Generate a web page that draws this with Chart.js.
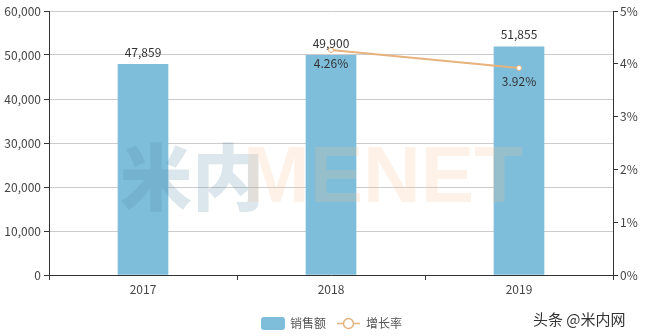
<!DOCTYPE html>
<html><head><meta charset="utf-8">
<script src="https://cdn.jsdelivr.net/npm/chart.js@4"></script>
<style>html,body{margin:0;padding:0;background:#fff;}#wrap{width:646px;height:336px;position:relative;}</style>
</head><body><div id="wrap"><canvas id="c" width="646" height="336"></canvas></div>
<script>
const categories = ['2017', '2018', '2019'];
const salesValues = [47859, 49900, 51855];
const growthValues = [null, 4.26, 3.92];
const leftTicks = [0, 10000, 20000, 30000, 40000, 50000, 60000];
const rightTicks = [0, 1, 2, 3, 4, 5];
const seriesNames = ['销售额', '增长率'];
const sourceText = '头条 @米内网';

const FONT = '"Noto Sans CJK SC", "DejaVu Sans", sans-serif';
const BAR = 'rgb(126,190,219)';
const LINE = 'rgb(231,178,124)';
const fmt = v => v.toLocaleString('en-US');

const overlay = {
  id: 'overlay',
  afterDatasetsDraw(chart) {
    const ctx = chart.ctx;
    ctx.save();
    ctx.textBaseline = 'alphabetic';
    ctx.font = '900 72px "Noto Sans CJK SC", sans-serif';
    ctx.fillStyle = 'rgba(80,130,165,0.2)';
    ctx.textAlign = 'left';
    ctx.fillText('米内', 120, 204);
    ctx.font = 'bold 80px "Liberation Sans", Arial, sans-serif';
    ctx.fillStyle = 'rgba(250,190,140,0.2)';
    ctx.fillText('MENET', 243, 202);
    ctx.restore();
  },
  afterDraw(chart) {
    const ctx = chart.ctx;
    ctx.save();
    ctx.font = '12px ' + FONT;
    ctx.fillStyle = '#333';
    ctx.textAlign = 'center';
    ctx.textBaseline = 'middle';
    const m0 = chart.getDatasetMeta(0);
    m0.data.forEach((b, i) => {
      ctx.fillText(fmt(salesValues[i]), b.x, b.y - 12);
    });
    const m1 = chart.getDatasetMeta(1);
    m1.data.forEach((p, i) => {
      if (growthValues[i] == null) return;
      ctx.fillText(growthValues[i].toFixed(2) + '%', p.x, p.y + 13);
    });
    ctx.fillStyle = BAR;
    ctx.beginPath();
    ctx.roundRect(261, 317, 24, 13, 3);
    ctx.fill();
    ctx.fillStyle = '#555';
    ctx.textAlign = 'left';
    ctx.font = '12px ' + FONT;
    ctx.fillText(seriesNames[0], 290, 323.5);
    ctx.strokeStyle = LINE;
    ctx.lineWidth = 1.5;
    ctx.beginPath(); ctx.moveTo(337, 323.5); ctx.lineTo(360, 323.5); ctx.stroke();
    ctx.beginPath(); ctx.arc(348.5, 323.5, 5, 0, Math.PI * 2);
    ctx.fillStyle = '#fff'; ctx.fill(); ctx.stroke();
    ctx.fillStyle = '#555';
    ctx.fillText(seriesNames[1], 366, 323.5);
    ctx.font = '15px ' + FONT;
    ctx.fillStyle = '#333';
    ctx.fillText(sourceText, 533, 319);
    ctx.restore();
  }
};

new Chart(document.getElementById('c'), {
  type: 'bar',
  data: {
    labels: categories,
    datasets: [
      { label: seriesNames[0], data: salesValues, backgroundColor: BAR, barThickness: 50, yAxisID: 'y', order: 2 },
      { type: 'line', label: seriesNames[1], data: growthValues, borderColor: LINE, borderWidth: 2,
        pointRadius: 2.5, pointBackgroundColor: '#fff', pointBorderColor: LINE, pointBorderWidth: 1,
        yAxisID: 'y1', order: 1, spanGaps: true }
    ]
  },
  options: {
    responsive: false,
    animation: false,
    layout: { padding: { top: 11, left: 0, right: 0, bottom: 0 } },
    plugins: { legend: { display: false }, tooltip: { enabled: false } },
    scales: {
      x: {
        offset: true,
        grid: { offset: true, drawOnChartArea: false, tickColor: '#333', tickLength: 5 },
        border: { color: '#333', width: 1 },
        ticks: { color: '#444', font: { family: FONT, size: 12 }, padding: 2 },
        afterFit(s) { s.height = 61; }
      },
      y: {
        position: 'left', min: 0, max: 60000,
        afterBuildTicks(s) { s.ticks = leftTicks.map(v => ({ value: v })); },
        grid: { color: '#ccc', tickColor: '#333', tickLength: 5 },
        border: { color: '#333', width: 1 },
        ticks: { color: '#444', font: { family: FONT, size: 12 }, padding: 3, callback: v => fmt(v) },
        afterFit(s) { s.width = 49; }
      },
      y1: {
        position: 'right', min: 0, max: 5,
        afterBuildTicks(s) { s.ticks = rightTicks.map(v => ({ value: v })); },
        grid: { drawOnChartArea: false, tickColor: '#333', tickLength: 5 },
        border: { color: '#333', width: 1 },
        ticks: { color: '#444', font: { family: FONT, size: 12 }, padding: 2, callback: v => v + '%' },
        afterFit(s) { s.width = 33; }
      }
    }
  },
  plugins: [overlay]
});
</script></body></html>
